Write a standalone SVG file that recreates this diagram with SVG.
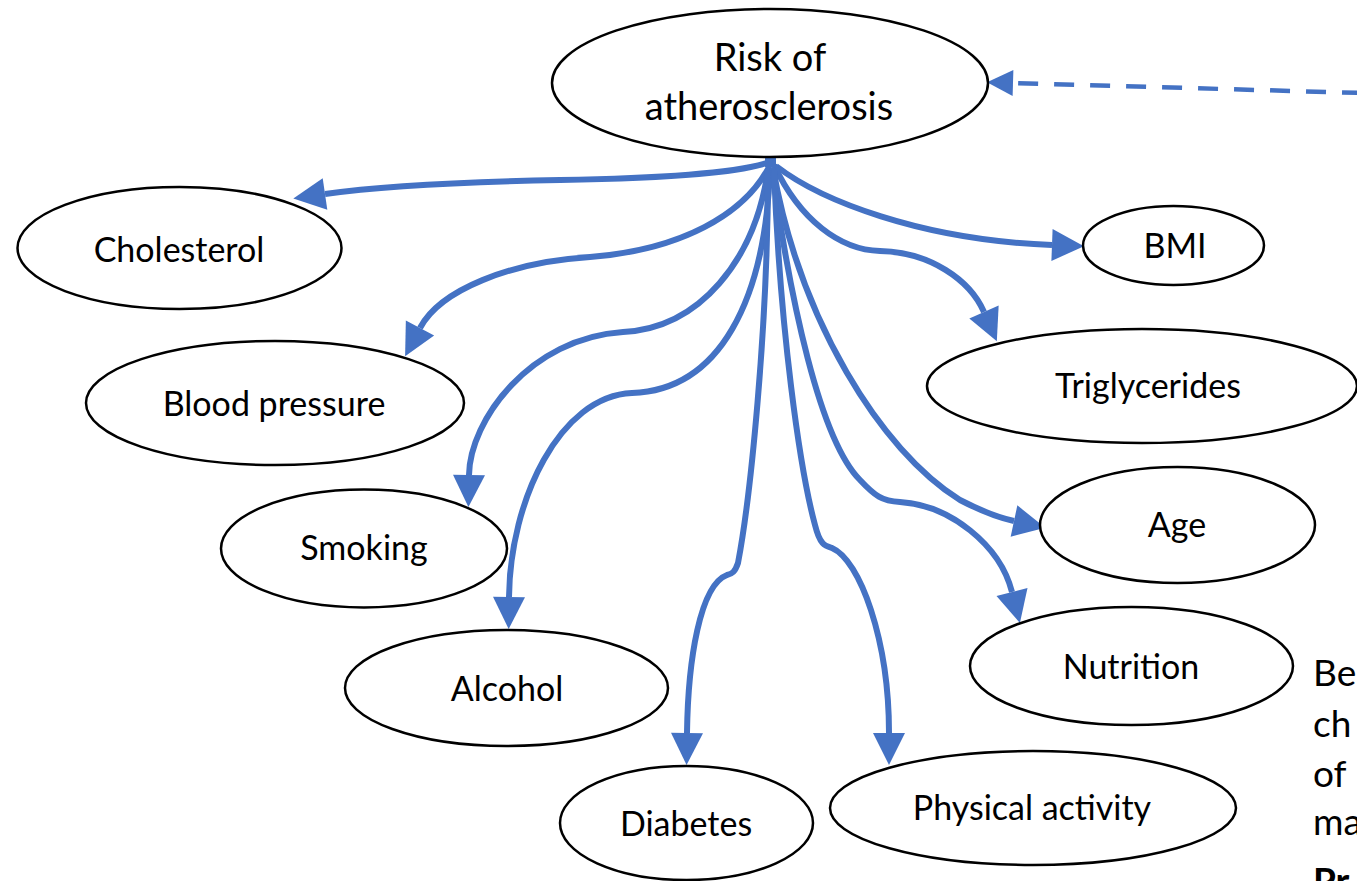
<svg xmlns="http://www.w3.org/2000/svg" width="1357" height="881" viewBox="0 0 1357 881">
<style>
.node ellipse{fill:#ffffff;stroke:#000000;stroke-width:2.5}
.node text{font-family:Lato,"Open Sans","Liberation Sans",sans-serif;font-size:34px;fill:#000000;text-anchor:middle}
.risk text{font-size:38px}
.conn{fill:none;stroke:#4472C4;stroke-width:6;marker-end:url(#arrow)}
.dash{fill:none;stroke:#4472C4;stroke-width:4.5;stroke-dasharray:20 16;marker-end:url(#arrowSmall)}
.side{font-family:Lato,"Open Sans","Liberation Sans",sans-serif;font-size:37px;fill:#000000}
</style>
<defs>
<marker id="arrow" markerUnits="userSpaceOnUse" markerWidth="34" markerHeight="34" viewBox="0 -17 32 34" refX="0" refY="0" orient="auto">
<path d="M0,-16 L32,0 L0,16 Z" fill="#4472C4"/>
</marker>
<marker id="arrowSmall" markerUnits="userSpaceOnUse" markerWidth="28" markerHeight="28" viewBox="0 -14 26 28" refX="0" refY="0" orient="auto">
<path d="M0,-13 L26,0 L0,13 Z" fill="#4472C4"/>
</marker>
</defs>
<rect width="1357" height="881" fill="#ffffff"/>

<g id="connectors">
<path class="dash" d="M1362,93 L1013,83"/>
<path class="conn" d="M770,162 C740,172 680,178 560,180 C450,182 380,186 325,194"/>
<path class="conn" d="M776,166 C820,200 920,240 1052,245"/>
<path class="conn" d="M770,165 C745,215 680,250 590,257 C510,262 440,290 420,328"/>
<path class="conn" d="M774,165 C800,220 840,250 880,251 C930,252 970,280 984,312"/>
<path class="conn" d="M768,170 C755,260 700,328 623,332 C530,338 470,420 469,475"/>
<path class="conn" d="M773,168 C800,320 880,450 960,500 C985,513 1000,518 1014,521"/>
<path class="conn" d="M770,170 C765,300 720,390 632,393 C560,396 510,500 509,597"/>
<path class="conn" d="M772,168 C790,300 820,440 860,480 C875,496 882,501 900,502 C950,505 1000,545 1012,592"/>
<path class="conn" d="M768,170 C768,330 750,500 738,563 C735,572 732,574 727,575 C700,585 688,660 687,733"/>
<path class="conn" d="M774,170 C780,330 800,470 815,525 C820,545 825,546 832,548 C860,560 889,640 889,733"/>
<rect x="765" y="157" width="11" height="10" fill="#4472C4"/>
</g>

<g id="node-risk" class="node risk">
<ellipse cx="770" cy="83" rx="218" ry="74"/>
<text x="770" y="71">Risk of</text>
<text x="769" y="120">atherosclerosis</text>
</g>
<g id="node-cholesterol" class="node">
<ellipse cx="179.5" cy="248" rx="162" ry="61"/>
<text x="179" y="262">Cholesterol</text>
</g>
<g id="node-bmi" class="node">
<ellipse cx="1173.5" cy="245.5" rx="90.5" ry="39.5"/>
<text x="1175" y="258">BMI</text>
</g>
<g id="node-blood-pressure" class="node">
<ellipse cx="275" cy="403" rx="189" ry="62"/>
<text x="274" y="416">Blood pressure</text>
</g>
<g id="node-triglycerides" class="node">
<ellipse cx="1142" cy="386" rx="215" ry="57"/>
<text x="1148" y="398">Triglycerides</text>
</g>
<g id="node-smoking" class="node">
<ellipse cx="364" cy="548.5" rx="143" ry="59"/>
<text x="364" y="560">Smoking</text>
</g>
<g id="node-age" class="node">
<ellipse cx="1177.5" cy="525" rx="137.5" ry="58"/>
<text x="1177" y="537">Age</text>
</g>
<g id="node-alcohol" class="node">
<ellipse cx="506.5" cy="688" rx="161.5" ry="58"/>
<text x="507" y="701">Alcohol</text>
</g>
<g id="node-nutrition" class="node">
<ellipse cx="1131.5" cy="666" rx="161.5" ry="59"/>
<text x="1131" y="679">Nutrition</text>
</g>
<g id="node-diabetes" class="node">
<ellipse cx="686.5" cy="823" rx="126.5" ry="57"/>
<text x="686" y="836">Diabetes</text>
</g>
<g id="node-physical-activity" class="node">
<ellipse cx="1033" cy="808" rx="203" ry="57"/>
<text x="1032" y="820">Physical activity</text>
</g>

<g id="side-text">
<text class="side" x="1313" y="686">Be</text>
<text class="side" x="1313" y="737">ch</text>
<text class="side" x="1313" y="787">of</text>
<text class="side" x="1313" y="835">ma</text>
<text class="side" x="1313" y="894" font-weight="bold">Pr</text>
</g>
</svg>
